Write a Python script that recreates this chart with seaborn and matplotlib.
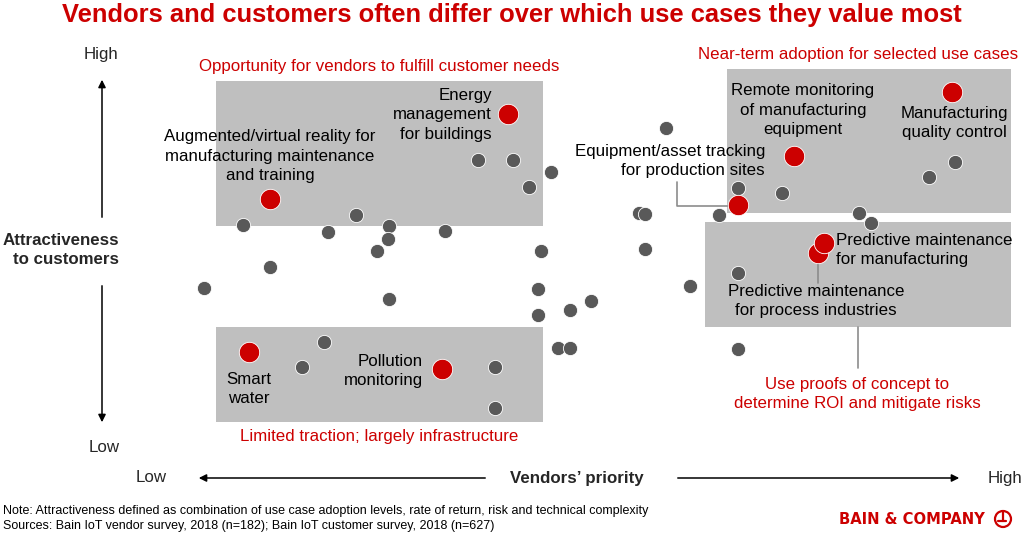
import pandas as pd
import matplotlib.pyplot as plt
import seaborn as sns
from matplotlib.patches import Rectangle, Circle

# Use cases: vendor priority (0-100) vs attractiveness to customers (0-100)
other_priority = [36.0, 40.4, 45.1, 42.4, 6.6, 20.8, 17.3, 24.9, 24.8, 23.4, 31.9, 43.9, 10.0,
                  1.8, 24.9, 43.5, 43.5, 47.5, 50.1, 16.8, 14.0, 38.1, 38.1, 59.5, 68.5, 74.0,
                  56.1, 56.9, 66.1, 83.6, 85.1, 92.4, 95.6, 56.9, 68.5, 62.5, 46.0, 47.5, 68.5]
other_attract = [73.7, 73.7, 70.5, 66.6, 56.6, 59.2, 54.7, 56.3, 52.9, 49.7, 55.0, 49.7, 45.5,
                 40.0, 37.1, 39.7, 32.9, 34.2, 36.6, 25.8, 19.2, 19.2, 8.4, 82.1, 66.3, 65.0,
                 59.7, 59.5, 59.2, 59.7, 57.1, 69.2, 73.2, 50.3, 43.9, 40.5, 24.2, 24.2, 23.9]

key_cases = ['Energy management for buildings', 'AR/VR for manufacturing', 'Remote monitoring',
             'Manufacturing quality control', 'Equipment/asset tracking',
             'Predictive maintenance (process)', 'Predictive maintenance (manufacturing)',
             'Smart water', 'Pollution monitoring']
key_priority = [39.8, 10.0, 75.5, 95.3, 68.5, 78.5, 79.3, 7.4, 31.5]
key_attract = [85.8, 63.4, 74.7, 91.6, 61.8, 49.2, 51.8, 23.2, 18.7]

others = pd.DataFrame({'priority': other_priority, 'attract': other_attract})
keys = pd.DataFrame({'case': key_cases, 'priority': key_priority, 'attract': key_attract})

RED = '#CC0000'
GRAY = '#595959'
BOX = '#BFBFBF'

sns.set_theme(style="white")
plt.rcParams['font.family'] = ['Liberation Sans', 'DejaVu Sans']

W, H = 1024, 535
fig = plt.figure(figsize=(W / 100, H / 100), dpi=100)

# background layer in pixel units (boxes, labels, arrows)
bg = fig.add_axes([0, 0, 1, 1])
bg.set_xlim(0, W)
bg.set_ylim(H, 0)
bg.axis('off')

# data layer on top
ax = fig.add_axes([190 / W, (H - 440) / H, 800 / W, 380 / H])
ax.set_facecolor('none')
ax.set_xlim(0, 100)
ax.set_ylim(0, 100)
ax.axis('off')

# quadrant boxes
for x0, y0, x1, y1 in [(216, 81, 543, 226), (216, 327, 543, 422),
                       (727, 69, 1011, 213), (705, 222, 1011, 327)]:
    bg.add_patch(Rectangle((x0, y0), x1 - x0, y1 - y0, color=BOX, lw=0, zorder=1))

sns.scatterplot(data=others, x='priority', y='attract', ax=ax, color=GRAY, s=105,
                edgecolor='white', linewidth=0.6, zorder=3, clip_on=False)
sns.scatterplot(data=keys, x='priority', y='attract', ax=ax, color=RED, s=215,
                edgecolor='white', linewidth=0.6, zorder=4, clip_on=False)

fs = 12.2
ls = 1.4
txt = dict(fontsize=fs, color='black', linespacing=ls, zorder=5)
red = dict(fontsize=fs, color=RED, zorder=5)

fig.text(0.5, 1 - 15 / H, 'Vendors and customers often differ over which use cases they value most',
         ha='center', va='center', fontsize=18.4, fontweight='bold', color=RED)

# region captions
bg.text(379, 66, 'Opportunity for vendors to fulfill customer needs', ha='center', va='center', **red)
bg.text(858, 55, 'Near-term adoption for selected use cases', ha='center', va='center', **red)
bg.text(379, 437, 'Limited traction; largely infrastructure', ha='center', va='center', **red)
bg.text(857, 394, 'Use proofs of concept to\ndetermine ROI and mitigate risks', ha='center',
        va='center', linespacing=ls, **red)

# use case labels
bg.text(492, 115, 'Energy\nmanagement\nfor buildings', ha='right', va='center', multialignment='right', **txt)
bg.text(270, 156, 'Augmented/virtual reality for\nmanufacturing maintenance\nand training', ha='center', va='center', **txt)
bg.text(803, 110, 'Remote monitoring\nof manufacturing\nequipment', ha='center', va='center', **txt)
bg.text(954, 123, 'Manufacturing\nquality control', ha='center', va='center', **txt)
bg.text(765, 161, 'Equipment/asset tracking\nfor production sites', ha='right', va='center', multialignment='right', **txt)
bg.text(836, 250, 'Predictive maintenance\nfor manufacturing', ha='left', va='center', **txt)
bg.text(816, 301, 'Predictive maintenance\nfor process industries', ha='center', va='center', **txt)
bg.text(249, 389, 'Smart\nwater', ha='center', va='center', **txt)
bg.text(423, 371, 'Pollution\nmonitoring', ha='right', va='center', multialignment='right', **txt)

# leader lines
lead = dict(color='#8C8C8C', lw=1.2, zorder=2)
bg.plot([677, 677, 728], [182, 206, 206], **lead)
bg.plot([818, 818], [258, 283], **lead)
bg.plot([858, 858], [327, 368], **lead)

# axis arrows
arr = dict(arrowstyle='-|>', color='black', lw=1.1, mutation_scale=11)
bg.annotate('', xy=(102, 77), xytext=(102, 220), arrowprops=arr)
bg.annotate('', xy=(102, 425), xytext=(102, 283), arrowprops=arr)
bg.annotate('', xy=(196, 478), xytext=(488, 478), arrowprops=arr)
bg.annotate('', xy=(962, 478), xytext=(675, 478), arrowprops=arr)

bg.text(101, 55, 'High', ha='center', va='center', fontsize=fs)
bg.text(104, 447, 'Low', ha='center', va='center', fontsize=fs)
bg.text(119, 250, 'Attractiveness\nto customers', ha='right', va='center', multialignment='right',
        fontsize=fs, fontweight='bold', linespacing=ls)
bg.text(151, 478, 'Low', ha='center', va='center', fontsize=fs)
bg.text(1005, 478, 'High', ha='center', va='center', fontsize=fs)
bg.text(577, 478, 'Vendors\u2019 priority', ha='center', va='center', fontsize=fs, fontweight='bold')

# footnotes
note = dict(fontsize=9, color='black')
bg.text(3, 511, 'Note: Attractiveness defined as combination of use case adoption levels, rate of return, risk and technical complexity',
        ha='left', va='center', **note)
bg.text(3, 526, 'Sources: Bain IoT vendor survey, 2018 (n=182); Bain IoT customer survey, 2018 (n=627)',
        ha='left', va='center', **note)

# logo
bg.text(985, 520, 'BAIN & COMPANY', ha='right', va='center', fontsize=10.6, color=RED,
        fontweight='bold', family=['DejaVu Sans'])
bg.add_patch(Circle((1003, 519), 8, fill=False, ec=RED, lw=1.6))
bg.plot([1003, 1003], [512, 521], color=RED, lw=1.6)
bg.plot([998, 1006], [521, 521], color=RED, lw=1.6)

fig.savefig('out.png', dpi=100)
